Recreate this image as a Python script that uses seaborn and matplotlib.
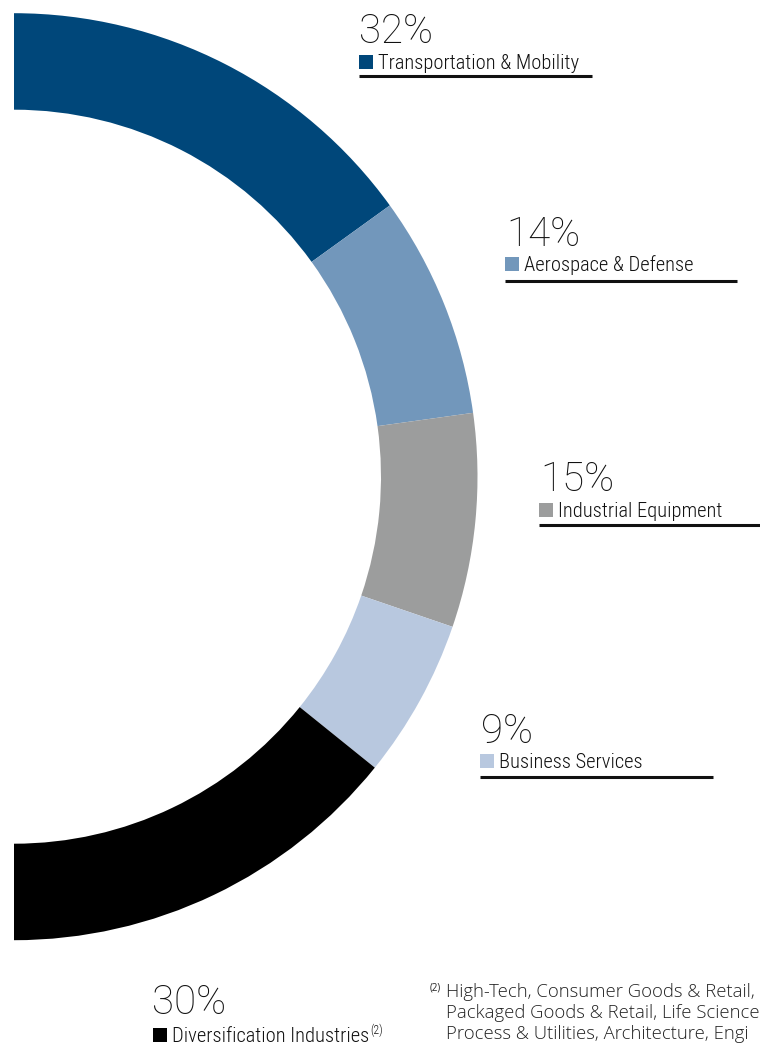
import matplotlib
matplotlib.use("Agg")
import matplotlib.pyplot as plt
import seaborn as sns
from matplotlib.patches import Rectangle

# ---------------- data ----------------
segments = ["Transportation & Mobility", "Aerospace & Defense", "Industrial Equipment",
            "Business Services", "Diversification Industries"]
pct_labels = [32, 14, 15, 9, 30]            # printed percentages
arc_shares = [30.1, 15.5, 14.9, 11.1, 28.4]  # arc share of the half ring as drawn
colors = ["#00477A", "#7297BB", "#9C9D9D", "#B8C8DF", "#000000"]
footnote_mark = "(2)"
footnote_lines = ["High-Tech, Consumer Goods & Retail,",
                  "Packaged Goods & Retail, Life Science",
                  "Process & Utilities, Architecture, Engi"]

sns.set_theme(style="white")
palette = sns.color_palette(colors)

W, H = 760, 1046
fig = plt.figure(figsize=(W / 100, H / 100), dpi=100)
ax = fig.add_axes([0, 0, 1, 1])

def Y(y):  # pixel from top -> data y
    return H - y

# half donut: add an invisible complementary half
cx, cy, R, ring = 14, 476.7, 463.5, 96.5
vals = arc_shares + [sum(arc_shares)]
cols = list(palette) + [(1, 1, 1, 0)]
ax.pie(vals, colors=cols, startangle=90, counterclock=False, center=(cx, Y(cy)),
       radius=R, wedgeprops=dict(width=ring, linewidth=0, antialiased=True))
ax.set_xlim(0, W)
ax.set_ylim(0, H)
ax.set_aspect("auto")
ax.axis("off")

cond = ["Roboto Condensed", "Liberation Sans Narrow", "Lato", "DejaVu Sans"]
num_font = dict(family=["Roboto", "DejaVu Sans"], fontweight="light", fontsize=29, color="#111111")
lab_font = dict(family=cond, fontweight="light", fontsize=14.8, color="#111111")

# (pct_x, pct_baseline, square_x, square_top, line_x0, line_x1, line_y)
layout = [
    (359, 43, 359, 55, 359, 592, 75.5),
    (506, 246, 505, 257, 505, 737, 281),
    (540, 491, 539, 503, 539, 760, 525),
    (481, 743, 480, 754, 480, 713, 777),
    (152, 1014, 153, 1028, None, None, None),
]
sq = 14
renderer = fig.canvas.get_renderer()
for i, (name, p) in enumerate(zip(segments, pct_labels)):
    px, pb, sx, st, lx0, lx1, ly = layout[i]
    ax.text(px, Y(pb), f"{p}%", ha="left", va="baseline", **num_font)
    ax.add_patch(Rectangle((sx, Y(st + sq)), sq, sq, facecolor=palette[i], edgecolor="none"))
    t = ax.text(sx + sq + 5, Y(st + sq), name, ha="left", va="baseline", **lab_font)
    if lx0 is not None:
        ax.plot([lx0, lx1], [Y(ly), Y(ly)], color="#111111", lw=2.2, solid_capstyle="butt")
    else:
        bb = t.get_window_extent(renderer)
        ax.text(bb.x1 + 1, Y(st + sq) + 8, footnote_mark, ha="left", va="baseline",
                family=cond, fontweight="light", fontsize=8.5, color="#111111")

# footnote
fn_font = dict(family=["Open Sans", "DejaVu Sans"], fontweight="light", fontsize=13.3, color="#222222")
ax.text(430, Y(990), footnote_mark, ha="left", va="baseline",
        family=["Open Sans", "DejaVu Sans"], fontsize=7, color="#222222")
for k, line in enumerate(footnote_lines):
    ax.text(446, Y(997 + 21 * k), line, ha="left", va="baseline", **fn_font)

fig.savefig("out.png", dpi=100)
